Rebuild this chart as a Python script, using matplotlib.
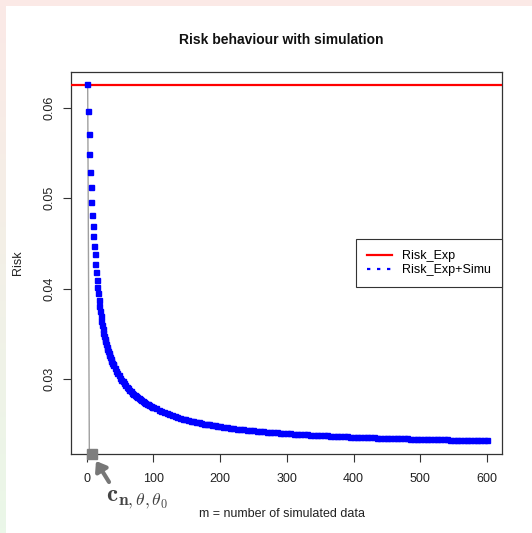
import numpy as np
import matplotlib
matplotlib.use("Agg")
import matplotlib.pyplot as plt
from matplotlib.lines import Line2D

plt.rcParams['font.family'] = ['Liberation Sans', 'DejaVu Sans']
plt.rcParams['mathtext.fontset'] = 'cm'

# ---- data ----
risk_exp = 0.0625
m_vals = np.r_[np.arange(1, 41), np.arange(42, 101, 2), np.arange(104, 201, 4), np.arange(205, 601, 5)]
risk_simu = [
    # 1..40
    0.06262, 0.05967, 0.05712, 0.05487, 0.05291, 0.05122, 0.04962, 0.04815, 0.04697, 0.04586,
    0.04475, 0.04380, 0.04275, 0.04185, 0.04100, 0.04022, 0.03948, 0.03878, 0.03812, 0.03750,
    0.03696, 0.03645, 0.03597, 0.03551, 0.03512, 0.03475, 0.03446, 0.03418, 0.03386, 0.03356,
    0.03333, 0.03311, 0.03285, 0.03260, 0.03242, 0.03224, 0.03202, 0.03181, 0.03166, 0.03152,
    # 42..100 step 2
    0.03115, 0.03092, 0.03060, 0.03041, 0.03013, 0.02988, 0.02974, 0.02951, 0.02930, 0.02909,
    0.02895, 0.02882, 0.02865, 0.02849, 0.02833, 0.02819, 0.02810, 0.02801, 0.02788, 0.02776,
    0.02764, 0.02753, 0.02742, 0.02732, 0.02725, 0.02718, 0.02708, 0.02700, 0.02693, 0.02688,
    # 104..200 step 4
    0.02672, 0.02658, 0.02644, 0.02631, 0.02619, 0.02608, 0.02598, 0.02588, 0.02578, 0.02569,
    0.02561, 0.02552, 0.02545, 0.02537, 0.02530, 0.02524, 0.02517, 0.02511, 0.02505, 0.02500,
    0.02495, 0.02489, 0.02484, 0.02480, 0.02475,
    # 205..600 step 5
    0.02470, 0.02464, 0.02459, 0.02455, 0.02450, 0.02446, 0.02441, 0.02437, 0.02434, 0.02430,
    0.02426, 0.02423, 0.02419, 0.02416, 0.02413, 0.02410, 0.02407, 0.02404, 0.02402, 0.02399,
    0.02396, 0.02394, 0.02392, 0.02389, 0.02387, 0.02385, 0.02383, 0.02381, 0.02379, 0.02377,
    0.02375, 0.02373, 0.02371, 0.02370, 0.02368, 0.02366, 0.02365, 0.02363, 0.02361, 0.02360,
    0.02358, 0.02357, 0.02356, 0.02354, 0.02353, 0.02352, 0.02350, 0.02349, 0.02348, 0.02347,
    0.02346, 0.02344, 0.02343, 0.02342, 0.02341, 0.02340, 0.02339, 0.02338, 0.02337, 0.02336,
    0.02335, 0.02334, 0.02333, 0.02332, 0.02332, 0.02331, 0.02330, 0.02329, 0.02328, 0.02327,
    0.02327, 0.02326, 0.02325, 0.02324, 0.02324, 0.02323, 0.02322, 0.02321, 0.02321, 0.02320,
]
c_point_m = 8
c_point_risk = 0.0217
x_ticks = [0, 100, 200, 300, 400, 500, 600]
y_ticks = [0.03, 0.04, 0.05, 0.06]
y_ticklabels = ["0.03", "0.04", "0.05", "0.06"]
legend_labels = ["Risk_Exp", "Risk_Exp+Simu"]

W, H = 532, 533
fig = plt.figure(figsize=(W / 100, H / 100), dpi=100)
fig.patch.set_facecolor('white')

# screenshot border (pink top band, pink->green left strip)
top_ax = fig.add_axes([0, 1 - 6 / H, 1, 6 / H])
top_ax.set_axis_off()
top_ax.add_patch(plt.Rectangle((0, 0), 1, 1, color='#fbe9e6', transform=top_ax.transAxes))
left_ax = fig.add_axes([0, 0, 6 / W, 1 - 6 / H])
grad = np.linspace(0, 1, 100)[:, None]
c_top = np.array([0.984, 0.914, 0.902])
c_bot = np.array([0.918, 0.969, 0.910])
img = c_top[None, None, :] * (1 - grad[:, :, None]) + c_bot[None, None, :] * grad[:, :, None]
left_ax.imshow(img, aspect='auto', extent=[0, 1, 0, 1])
left_ax.set_axis_off()

ax = fig.add_axes([71 / W, 1 - 454 / H, (502 - 71) / W, (454 - 72) / H])
ax.set_xlim(-23.5, 622.5)
ax.set_ylim(0.02168, 0.06399)

ax.axhline(risk_exp, color='#ff0000', lw=1.6, zorder=3)
ax.plot([1.5, 4], [risk_exp, 0.02168], color='#a0a0a0', lw=1.0, zorder=2)
ax.plot(m_vals, risk_simu, linestyle='none', marker='s', markersize=3.6,
        markerfacecolor='#0000ff', markeredgecolor='#0000ff', markeredgewidth=1.0, zorder=4)
ax.plot([c_point_m], [c_point_risk], marker='s', markersize=6.5, color='#7f7f7f',
        linestyle='none', clip_on=False, zorder=5)

ax.set_xticks(x_ticks)
ax.set_xticklabels([str(t) for t in x_ticks])
ax.set_yticks(y_ticks)
ax.set_yticklabels(y_ticklabels, rotation=90, va='center')
ax.tick_params(axis='both', direction='out', length=6, width=0.8, colors='#333333',
               labelsize=9, labelcolor='#222222')
ax.tick_params(axis='x', pad=8)
ax.tick_params(axis='y', pad=5)
for s in ax.spines.values():
    s.set_color('#333333')
    s.set_linewidth(0.9)

handles = [Line2D([], [], color='#ff0000', lw=1.6),
           Line2D([], [], color='#0000ff', lw=1.6, linestyle=(0, (1.5, 3)))]
leg = ax.legend(handles, legend_labels, loc='center right', borderaxespad=0,
                fancybox=False, edgecolor='#333333', framealpha=1, fontsize=9,
                handlelength=2.0, handletextpad=0.8, borderpad=0.9, labelspacing=0.15)
leg.get_frame().set_linewidth(0.8)

fig.text(281 / W, 1 - 40 / H, "Risk behaviour with simulation", ha='center', va='center',
         fontsize=10, fontweight='bold', color='#111111')
fig.text(282 / W, 1 - 514 / H, "m = number of simulated data", ha='center', va='center',
         fontsize=9, color='#222222')
fig.text(18 / W, 1 - 263 / H, "Risk", ha='center', va='center', rotation=90,
         fontsize=9, color='#222222')

# annotation arrow and label
ax.annotate('', xy=(96, H - 461), xytext=(109, H - 482), xycoords='figure pixels',
            textcoords='figure pixels', annotation_clip=False,
            arrowprops=dict(arrowstyle='-|>,head_length=0.55,head_width=0.4',
                            mutation_scale=10, color='#777777', lw=3,
                            shrinkA=0, shrinkB=0))
fig.text(137 / W, 1 - 499 / H, r'$\mathbf{c}_{\mathbf{n},\theta,\theta_{0}}$',
         ha='center', va='center', fontsize=18, color='#444444')

fig.savefig('out.png', dpi=100)
